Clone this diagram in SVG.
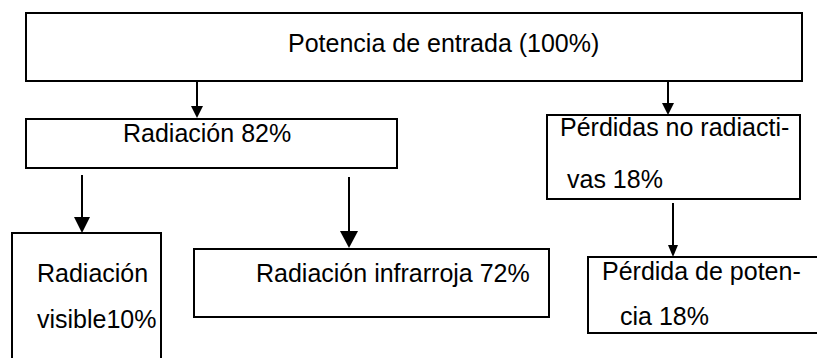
<svg xmlns="http://www.w3.org/2000/svg" width="817" height="358" viewBox="0 0 817 358">
<style>
.box{fill:#fff;stroke:#000;stroke-width:2}
.t{font-family:"Liberation Sans",Arial,sans-serif;font-size:25px;fill:#000}
.ln{stroke:#000;stroke-width:2;fill:none}
.hd{fill:#000}
</style>
<rect width="817" height="358" fill="#fff"/>
<g id="connectors">
<line class="ln" x1="197" y1="81" x2="197" y2="108"/>
<polygon class="hd" points="191,106 203,106 197,118"/>
<line class="ln" x1="668" y1="81" x2="668" y2="105"/>
<polygon class="hd" points="662,103 674,103 668,115"/>
<line class="ln" x1="82" y1="175" x2="82" y2="220"/>
<polygon class="hd" points="74,217 90,217 82,233"/>
<line class="ln" x1="349" y1="177" x2="349" y2="233"/>
<polygon class="hd" points="340,231 358,231 349,248"/>
<line class="ln" x1="673" y1="203" x2="673" y2="248"/>
<polygon class="hd" points="668,245 678,245 673,257"/>
</g>
<g id="n-entrada">
<rect class="box" x="26" y="13" width="776" height="68"/>
<text class="t" x="288" y="52">Potencia de entrada (100%)</text>
</g>
<g id="n-radiacion">
<rect class="box" x="26" y="119" width="371" height="49"/>
<text class="t" x="123" y="142">Radiación 82%</text>
</g>
<g id="n-perdidas">
<rect class="box" x="547" y="115" width="253" height="84"/>
<text class="t" x="560" y="136">Pérdidas no radiacti-</text>
<text class="t" x="567" y="188">vas 18%</text>
</g>
<g id="n-visible">
<rect class="box" x="12" y="233" width="149" height="140"/>
<text class="t" x="37" y="282">Radiación</text>
<text class="t" x="37" y="328">visible10%</text>
</g>
<g id="n-infrarroja">
<rect class="box" x="194" y="249" width="355" height="68"/>
<text class="t" x="256" y="282">Radiación infrarroja 72%</text>
</g>
<g id="n-perdida">
<rect class="box" x="588" y="257" width="240" height="76"/>
<text class="t" x="602" y="280">Pérdida de poten-</text>
<text class="t" x="620" y="325">cia 18%</text>
</g>
</svg>
